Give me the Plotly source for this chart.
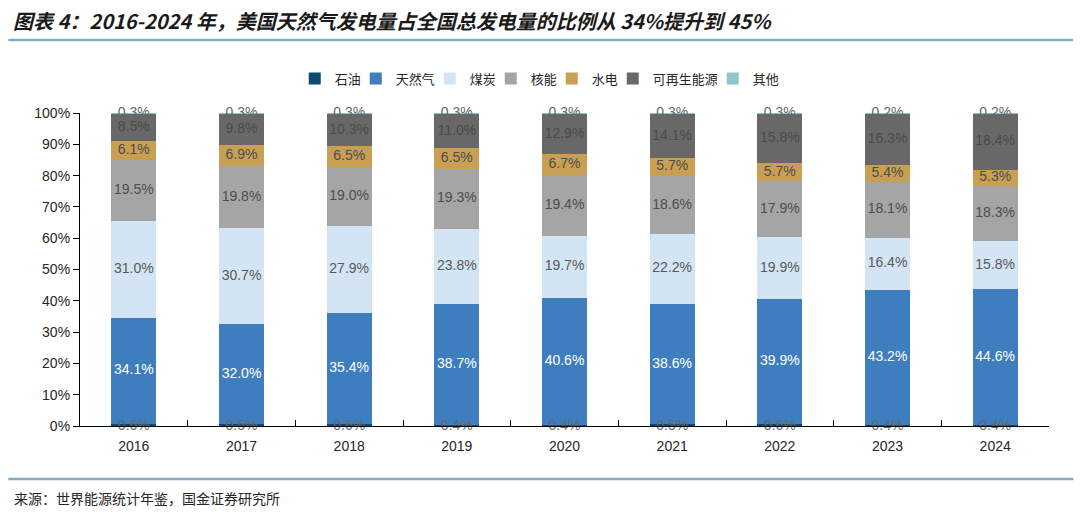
import plotly.graph_objects as go

years = ["2016", "2017", "2018", "2019", "2020", "2021", "2022", "2023", "2024"]
oil = [0.6, 0.5, 0.6, 0.4, 0.4, 0.5, 0.6, 0.4, 0.4]
gas = [34.1, 32.0, 35.4, 38.7, 40.6, 38.6, 39.9, 43.2, 44.6]
coal = [31.0, 30.7, 27.9, 23.8, 19.7, 22.2, 19.9, 16.4, 15.8]
nuclear = [19.5, 19.8, 19.0, 19.3, 19.4, 18.6, 17.9, 18.1, 18.3]
hydro = [6.1, 6.9, 6.5, 6.5, 6.7, 5.7, 5.7, 5.4, 5.3]
renew = [8.5, 9.8, 10.3, 11.0, 12.9, 14.1, 15.8, 16.3, 18.4]
other = [0.3, 0.3, 0.3, 0.3, 0.3, 0.3, 0.3, 0.2, 0.2]
y_ticks = [0, 10, 20, 30, 40, 50, 60, 70, 80, 90, 100]
y_tick_labels = ["0%", "10%", "20%", "30%", "40%", "50%", "60%", "70%", "80%", "90%", "100%"]

series = [
    ("石油", oil, "#0E4A70", "#666666"),
    ("天然气", gas, "#3F7EBE", "#FFFFFF"),
    ("煤炭", coal, "#D3E4F4", "#595959"),
    ("核能", nuclear, "#A5A5A5", "#4D4D4D"),
    ("水电", hydro, "#C9A053", "#4D4D4D"),
    ("可再生能源", renew, "#686868", "#4A4A4A"),
    ("其他", other, "#8FC6CA", "#666666"),
]

FONT = "Liberation Sans, Arial, sans-serif"
CJK = "Noto Sans CJK SC, sans-serif"
LEG_SIZE = 13

n = len(years)
totals = [sum(s[1][i] for s in series) for i in range(n)]

fig = go.Figure()
for k, (name, vals, color, _) in enumerate(series):
    last = k == len(series) - 1
    fig.add_trace(go.Bar(
        x=years, y=[v / t * 100 for v, t in zip(vals, totals)], name=name,
        marker=dict(color=color, line=dict(width=0)),
        width=0.42, hoverinfo="skip",
        legendwidth=len(name) * LEG_SIZE + (4 if last else -10),
    ))

# labels at segment centres (oil at the 0% line, other at the 100% line)
cum = [0.0] * n
for idx, (name, vals, color, tcol) in enumerate(series):
    centers = []
    for i in range(n):
        v = vals[i] / totals[i] * 100
        c = cum[i] + v / 2
        if idx == 0:
            c = 0
        if idx == len(series) - 1:
            c = 100
        centers.append(c)
        cum[i] += v
    fig.add_trace(go.Scatter(
        x=years, y=centers, mode="text",
        text=[f"{v:.1f}%" for v in vals],
        textfont=dict(family=FONT, size=14, color=tcol),
        showlegend=False, hoverinfo="skip", cliponaxis=False,
    ))

fig.update_layout(
    barmode="stack",
    width=1080, height=516,
    paper_bgcolor="white", plot_bgcolor="white",
    margin=dict(l=80, r=31, t=113, b=90),
    font=dict(family=FONT, size=14, color="#262626"),
    legend=dict(
        orientation="h", x=0.476, xanchor="center", y=1.11, yanchor="middle",
        font=dict(family=CJK, size=LEG_SIZE, color="#262626"),
        itemwidth=30, traceorder="normal", itemclick=False,
    ),
    xaxis=dict(
        showline=True, linecolor="#000000", linewidth=1.2,
        ticks="inside", ticklen=6, tickcolor="#000000",
        tickson="boundaries", showgrid=False, ticklabelstandoff=7,
        tickfont=dict(family=FONT, size=14, color="#262626"),
    ),
    yaxis=dict(
        range=[0, 100], tickvals=y_ticks, ticktext=y_tick_labels,
        showline=True, linecolor="#000000", linewidth=1.2,
        ticks="outside", ticklen=6, tickcolor="#000000",
        showgrid=False, zeroline=False,
        tickfont=dict(family=FONT, size=14, color="#262626"),
    ),
    shapes=[
        dict(type="line", xref="paper", yref="paper",
             x0=-0.074, x1=1.025, y0=1.233, y1=1.233,
             line=dict(color="#85A9C3", width=2.5)),
        dict(type="line", xref="paper", yref="paper",
             x0=-0.074, x1=1.025, y0=-0.169, y1=-0.169,
             line=dict(color="#85A9C3", width=2.5)),
    ],
    annotations=[
        dict(text="<b><i>图表 4：2016-2024 年，美国天然气发电量占全国总发电量的比例从 34%提升到 45%</i></b>",
             xref="paper", yref="paper", x=-0.071, y=1.297, xanchor="left", yanchor="middle",
             showarrow=False, font=dict(family=CJK, size=20, color="#1A1A1A")),
        dict(text="来源：世界能源统计年鉴，国金证券研究所",
             xref="paper", yref="paper", x=-0.070, y=-0.23, xanchor="left", yanchor="middle",
             showarrow=False, font=dict(family=CJK, size=14, color="#262626")),
    ],
)

fig.write_html(
    "out.html",
    config={"displayModeBar": False},
    post_script="document.body.style.margin='0';document.body.style.overflow='hidden';",
)
